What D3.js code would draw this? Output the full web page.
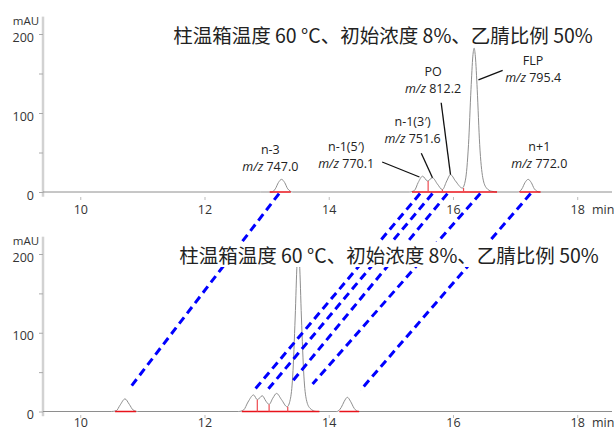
<!DOCTYPE html>
<html>
<head>
<meta charset="utf-8">
<script src="https://cdn.jsdelivr.net/npm/d3@7"></script>
<style>
  body { margin: 0; background: #fff; }
  svg { display: block; }
</style>
</head>
<body>
<div id="chart"></div>
<script>
// chromatogram traces, [time (min), mAU]
var topTrace = [
  [9.40,0],[12.90,0],[13.08,0],[13.14,4],[13.19,12],[13.24,16],[13.29,12],[13.34,4],[13.42,0],
  [15.30,0],[15.38,2],[15.44,12],[15.51,20],[15.59,14],[15.67,18],[15.75,10],[15.83,3],
  [15.90,14],[15.96,22],[16.04,14],[16.15,5],[16.20,15],[16.25,60],[16.29,130],[16.32,172],
  [16.34,182],[16.36,172],[16.39,130],[16.43,60],[16.48,18],[16.54,5],[16.62,1],[16.72,0],
  [17.05,0],[17.11,4],[17.16,12],[17.21,16],[17.26,12],[17.31,4],[17.39,0],[18.56,0]
];
var bottomTrace = [
  [9.40,0],[10.50,0],[10.58,1],[10.64,8],[10.72,16],[10.79,9],[10.85,2],[10.92,0],
  [12.55,0],[12.63,2],[12.70,12],[12.79,21],[12.85,15],[12.93,20],[12.99,13],[13.04,9],
  [13.10,17],[13.16,23],[13.24,15],[13.33,6],[13.38,15],[13.42,45],[13.46,120],[13.49,188],
  [13.51,205],[13.53,188],[13.56,120],[13.60,45],[13.64,15],[13.70,4],[13.80,0],
  [14.13,0],[14.20,5],[14.25,13],[14.30,18],[14.35,13],[14.41,4],[14.48,0],[18.56,0]
];

// integration baselines [start, end] and drop lines [time, mAU]
var topBaselines = [[13.05,13.39],[15.34,16.71],[17.07,17.41]];
var topDrops = [[15.60,14],[15.83,3],[16.17,5]];
var bottomBaselines = [[10.56,10.90],[12.60,13.85],[14.17,14.49]];
var bottomDrops = [[12.85,15],[13.04,9],[13.34,6]];

// peak labels (top run): name, m/z, label time, label mAU, leader from / to
var peakNames = ["n-3", "n-1(5\u2032)", "n-1(3\u2032)", "PO", "FLP", "n+1"];
var peakMz    = ["747.0", "770.1", "751.6", "812.2", "795.4", "772.0"];
var labelPos  = [[13.06,27],[14.28,30],[15.35,62],[15.68,125],[17.29,139],[17.39,30]];
var leaders   = [null, [14.86,38,15.46,19], [15.49,49,15.67,18], [15.81,113,15.96,22], [16.80,154,16.41,142], null];

// dashed links: top peak time -> bottom peak time, bottom mAU
var links = [[13.20,10.79,29],[15.47,12.82,29],[15.67,13.01,27],[15.91,13.38,35],[16.44,13.74,35],[17.25,14.51,27]];

var xTicks = [10,12,14,16,18];
var yTicks = [0,50,100,150,200];
var title = "柱温箱温度 60 °C、初始浓度 8%、乙腈比例 50%";

var W = 614, H = 432;
var svg = d3.select("#chart").append("svg").attr("width", W).attr("height", H);

var x = d3.scaleLinear().domain([9.4, 18.56]).range([43, 612]);
var yTop = d3.scaleLinear().domain([0, 200]).range([192, 34]);
var yBot = d3.scaleLinear().domain([0, 200]).range([411.5, 254]);

var line = d3.line().x(function(d){ return x(d[0]); }).curve(d3.curveMonotoneX);

function drawPanel(y, trace, baselines, drops, axisY, pad) {
  var g = svg.append("g");

  // y axis
  g.append("line")
    .attr("x1", 43).attr("x2", 43)
    .attr("y1", y(-6)).attr("y2", y(222))
    .attr("stroke", "#d2d2d2").attr("stroke-width", 2.5);
  var ya = g.append("g").attr("transform", "translate(43,0)")
    .call(d3.axisLeft(y).tickValues(yTicks).tickSize(4).tickPadding(5)
      .tickFormat(function(d){ return d % 100 === 0 ? d : ""; }));
  ya.select(".domain").remove();
  ya.selectAll("line").attr("stroke", "#aaa");
  ya.selectAll("text").attr("dy", "0.56em")
    .style("font-family", "Open Sans").style("font-size", "12.5px").attr("fill", "#333");
  g.append("text").attr("x", 26).attr("y", y(222) + 8).attr("text-anchor", "middle")
    .style("font-family", "Open Sans").style("font-size", "11.5px").attr("fill", "#333")
    .text("mAU");

  // x axis
  var xa = g.append("g").attr("transform", "translate(0," + axisY + ")")
    .call(d3.axisBottom(x).tickValues(xTicks).tickSize(3).tickPadding(pad));
  xa.select(".domain").remove();
  xa.selectAll("line").attr("stroke", "#bbb");
  xa.selectAll("text").style("font-family", "Open Sans").style("font-size", "12.5px").attr("fill", "#333");
  g.append("text").attr("x", 592).attr("y", axisY + 3 + pad + 9)
    .style("font-family", "Open Sans").style("font-size", "12.5px").attr("fill", "#333")
    .text("min");

  // trace
  g.append("path").datum(trace)
    .attr("fill", "none").attr("stroke", "#8e8e8e").attr("stroke-width", 1)
    .attr("d", line.y(function(d){ return y(d[1]); }));

  // integration marks
  g.selectAll(".bl").data(baselines).enter().append("line")
    .attr("x1", function(d){ return x(d[0]); }).attr("x2", function(d){ return x(d[1]); })
    .attr("y1", y(0)).attr("y2", y(0))
    .attr("stroke", "#e8131b").attr("stroke-width", 1.5);
  g.selectAll(".dr").data(drops).enter().append("line")
    .attr("x1", function(d){ return x(d[0]); }).attr("x2", function(d){ return x(d[0]); })
    .attr("y1", y(0)).attr("y2", function(d){ return y(d[1]); })
    .attr("stroke", "#ee4a50").attr("stroke-width", 1.2);

  return g;
}

drawPanel(yTop, topTrace, topBaselines, topDrops, 197, 5);
drawPanel(yBot, bottomTrace, bottomBaselines, bottomDrops, 415, 0);

// dashed links between the two runs
svg.append("g").selectAll("line").data(links).enter().append("line")
  .attr("x1", function(d){ return x(d[0]); }).attr("y1", yTop(-2))
  .attr("x2", function(d){ return x(d[1]); }).attr("y2", function(d){ return yBot(d[2]); })
  .attr("stroke", "#0000ff").attr("stroke-width", 3).attr("stroke-dasharray", "8,5");

// peak labels
var lab = svg.append("g").style("font-family", "Open Sans").style("font-size", "12.5px").attr("fill", "#222");
peakNames.forEach(function(name, i) {
  var px = x(labelPos[i][0]), py = yTop(labelPos[i][1]);
  lab.append("text").attr("x", px).attr("y", py - 17).attr("text-anchor", "middle").text(name);
  var t = lab.append("text").attr("x", px).attr("y", py).attr("text-anchor", "middle");
  t.append("tspan").style("font-style", "italic").text("m/z");
  t.append("tspan").text(" " + peakMz[i]);
  if (leaders[i]) {
    var l = leaders[i];
    lab.append("line")
      .attr("x1", x(l[0])).attr("y1", yTop(l[1]))
      .attr("x2", x(l[2])).attr("y2", yTop(l[3]))
      .attr("stroke", "#111").attr("stroke-width", 1.3);
  }
});

// titles with a white box behind
function addTitle(cx, base) {
  var g = svg.append("g");
  var bg = g.append("rect").attr("fill", "#fff");
  var t = g.append("text").attr("x", cx).attr("y", base).attr("text-anchor", "middle")
    .style("font-family", "Noto Sans CJK SC").style("font-size", "19.5px").attr("fill", "#222")
    .text(title);
  var b = t.node().getBBox();
  bg.attr("x", b.x - 2).attr("y", base - 21).attr("width", b.width + 4).attr("height", 25);
}
addTitle(383, 43);
addTitle(389, 263);
</script>
</body>
</html>
